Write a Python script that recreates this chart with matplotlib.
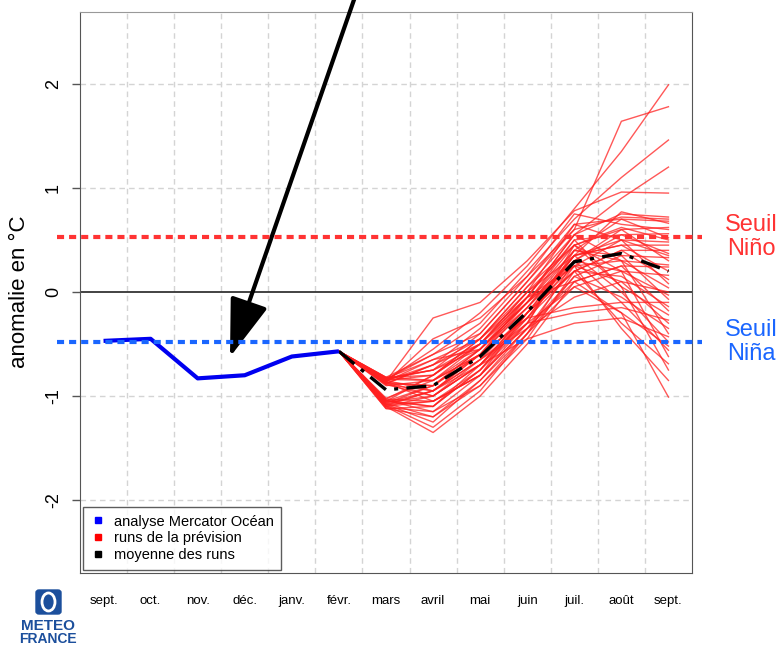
import numpy as np
import matplotlib
matplotlib.use("Agg")
import matplotlib.pyplot as plt
from matplotlib.lines import Line2D
from matplotlib.patches import FancyBboxPatch, Ellipse

plt.rcParams['font.family'] = ['Liberation Sans', 'DejaVu Sans']

# --- data ---
months = ["sept.", "oct.", "nov.", "déc.", "janv.", "févr.", "mars",
          "avril", "mai", "juin", "juil.", "août", "sept."]

# analysis (sept. -> févr.)
analyse = [-0.47, -0.45, -0.83, -0.80, -0.62, -0.57]

# forecast runs: mars, avril, mai, juin, juil., août, sept.
runs = [
    [-0.85, -0.55, -0.20, 0.25, 0.80, 1.35, 1.99],
    [-0.88, -0.70, -0.35, 0.15, 0.60, 1.64, 1.78],
    [-0.82, -0.60, -0.30, 0.20, 0.70, 1.10, 1.46],
    [-1.05, -0.80, -0.45, 0.05, 0.55, 0.90, 1.20],
    [-0.86, -0.25, -0.10, 0.30, 0.78, 0.96, 0.95],
    [-1.08, -0.95, -0.60, -0.05, 0.55, 0.75, 0.72],
    [-0.84, -0.75, -0.40, 0.10, 0.60, 0.72, 0.70],
    [-1.10, -1.00, -0.70, -0.20, 0.35, 0.77, 0.66],
    [-0.90, -0.85, -0.50, 0.00, 0.45, 0.60, 0.62],
    [-1.04, -1.10, -0.75, -0.25, 0.30, 0.55, 0.56],
    [-0.83, -0.65, -0.55, -0.10, 0.40, 0.70, 0.52],
    [-1.12, -1.20, -0.85, -0.35, 0.25, 0.50, 0.48],
    [-0.87, -0.90, -0.60, -0.15, 0.35, 0.45, 0.45],
    [-1.06, -0.95, -0.65, -0.20, 0.20, 0.40, 0.40],
    [-0.85, -0.80, -0.45, -0.05, 0.50, 0.55, 0.37],
    [-1.09, -1.30, -0.95, -0.40, 0.15, 0.35, 0.33],
    [-0.88, -0.70, -0.50, -0.10, 0.30, 0.60, 0.30],
    [-1.03, -1.05, -0.80, -0.30, 0.40, 0.30, 0.26],
    [-0.82, -0.85, -0.55, -0.05, 0.10, 0.25, 0.24],
    [-1.07, -0.90, -0.60, -0.25, 0.35, 0.45, 0.20],
    [-0.86, -1.00, -0.70, -0.30, 0.05, 0.20, 0.16],
    [-1.11, -1.15, -0.90, -0.45, 0.20, 0.40, 0.12],
    [-0.84, -0.60, -0.40, 0.10, 0.65, 0.50, 0.08],
    [-1.05, -1.10, -0.70, -0.20, 0.25, 0.30, 0.04],
    [-0.89, -0.95, -0.65, -0.35, -0.05, 0.10, 0.00],
    [-1.08, -1.25, -0.85, -0.40, 0.30, 0.20, -0.03],
    [-0.83, -0.75, -0.55, -0.15, 0.40, 0.35, -0.07],
    [-1.02, -0.85, -0.60, -0.25, -0.15, -0.10, -0.10],
    [-0.87, -1.05, -0.75, -0.20, 0.20, 0.15, -0.14],
    [-1.10, -1.35, -1.00, -0.50, 0.10, 0.25, -0.18],
    [-0.85, -0.70, -0.45, 0.05, 0.45, 0.05, -0.22],
    [-1.06, -1.00, -0.65, -0.30, -0.20, -0.15, -0.27],
    [-0.88, -0.90, -0.55, -0.10, 0.25, 0.10, -0.30],
    [-1.04, -1.15, -0.80, -0.35, 0.15, -0.05, -0.35],
    [-0.82, -0.80, -0.50, -0.05, 0.55, 0.30, -0.40],
    [-1.09, -0.95, -0.70, -0.45, -0.30, -0.25, -0.43],
    [-0.86, -0.65, -0.45, 0.00, 0.35, 0.00, -0.48],
    [-1.07, -1.20, -0.90, -0.40, 0.05, -0.20, -0.52],
    [-0.84, -0.85, -0.60, -0.15, 0.30, -0.10, -0.56],
    [-1.12, -1.10, -0.75, -0.30, 0.45, 0.20, -0.62],
    [-0.89, -1.00, -0.70, -0.25, 0.20, -0.30, -0.69],
    [-1.05, -0.90, -0.55, -0.10, 0.50, 0.05, -0.75],
    [-0.83, -0.75, -0.50, -0.05, 0.25, -0.35, -0.85],
    [-1.08, -1.05, -0.80, -0.35, 0.10, -0.20, -1.01],
    [-0.87, -0.45, -0.25, 0.15, 0.75, 0.65, 0.60],
    [-1.03, -0.80, -0.50, 0.00, 0.65, 0.70, 0.68],
    [-0.85, -0.95, -0.60, -0.10, 0.45, 0.62, 0.50],
    [-1.10, -1.05, -0.80, -0.20, 0.35, 0.50, 0.35],
]

# mean of runs: mars -> sept.
moyenne = [-0.94, -0.90, -0.62, -0.19, 0.29, 0.37, 0.20]

seuil_nino = 0.53
seuil_nina = -0.48

# --- figure ---
W, H = 782, 647
fig = plt.figure(figsize=(W / 100, H / 100), dpi=100)
ax = fig.add_axes([80 / W, 1 - 573 / H, 612 / W, 561 / H])

x = np.arange(len(months))
x_fc = x[len(analyse) - 1:]          # févr. -> sept.

for r in runs:
    ax.plot(x_fc, [analyse[-1]] + r, color='#ff2020', lw=1.0, alpha=0.75, zorder=3)
ax.plot(x_fc, [analyse[-1]] + moyenne, color='black', lw=2.4,
        linestyle=(0, (6, 2.5, 1.2, 2.5)), zorder=4)
ax.plot(x[:len(analyse)], analyse, color='#0000f0', lw=3.0, zorder=5,
        solid_capstyle='butt')

ax.axhline(0, color='#222222', lw=1.2, zorder=2)

# threshold lines overflow the axes on both sides
ax.plot([-0.98, 12.72], [seuil_nino] * 2, color='#ff3333', lw=3,
        dashes=(1.7, 1.2), clip_on=False, zorder=6)
ax.plot([-0.98, 12.72], [seuil_nina] * 2, color='#1a66ff', lw=3,
        dashes=(1.7, 1.2), clip_on=False, zorder=6)

ax.set_xlim(-0.5, 12.5)
ax.set_ylim(-2.70, 2.69)
ax.set_xticks(x)
ax.set_xticklabels(months, fontsize=9.5)
ax.tick_params(axis='x', length=0, pad=16)
ax.set_yticks([-2, -1, 0, 1, 2])
ax.set_yticklabels(["-2", "-1", "0", "1", "2"], rotation=90, va='center', fontsize=13)
ax.tick_params(axis='y', length=6, width=1, color='#555555', pad=7)

for v in np.arange(-0.5, 13, 1.0)[1:-1]:
    ax.axvline(v, color='#d4d4d4', lw=1, linestyle=(0, (4, 3)), zorder=1)
for v in [-2, -1, 1, 2]:
    ax.axhline(v, color='#d4d4d4', lw=1, linestyle=(0, (4, 3)), zorder=1)

for side in ['left', 'right', 'bottom']:
    ax.spines[side].set_color('#555555')
ax.spines['top'].set_color('#999999')

handles = [Line2D([], [], marker='s', ls='none', color=c, markersize=4.5)
           for c in ['#0000ff', '#ff0000', '#000000']]
leg = ax.legend(handles, ["analyse Mercator Océan", "runs de la prévision", "moyenne des runs"],
                loc='lower left', bbox_to_anchor=(0.005, 0.006), borderaxespad=0,
                fontsize=10.5, frameon=True, fancybox=False, edgecolor='#333333',
                handlelength=1.0, handletextpad=0.6, labelspacing=0.2, borderpad=0.5)
leg.get_frame().set_linewidth(1.0)
leg.set_zorder(10)

fig.text(20 / W, 1 - 292 / H, "anomalie en °C", rotation=90, ha='center', va='center',
         fontsize=16)

fig.text(751 / W, 1 - 237 / H, "Seuil\nNiño", color='#ff3333', ha='center', va='center',
         fontsize=17, linespacing=1.15)
fig.text(751 / W, 1 - 342 / H, "Seuil\nNiña", color='#1a66ff', ha='center', va='center',
         fontsize=17, linespacing=1.15)

# arrow coming from above the figure
ax.annotate('', xy=(230, H - 357), xytext=(356, H + 6),
            xycoords='figure pixels', textcoords='figure pixels',
            arrowprops=dict(arrowstyle='-|>,head_length=3.6,head_width=1.2',
                            mutation_scale=10, lw=3, color='black',
                            shrinkA=0, shrinkB=0))

# Météo-France logo
logo_blue = '#1c4f9c'
fig.patches.append(FancyBboxPatch((36 / W, 1 - 614 / H), 25 / W, 24 / H,
                                  boxstyle='round,pad=0.0,rounding_size=0.004',
                                  transform=fig.transFigure, color=logo_blue))
fig.patches.append(Ellipse((48.5 / W, 1 - 602 / H), 13 / W, 18 / H,
                           transform=fig.transFigure, fill=False, ec='white', lw=2))
fig.text(48 / W, 1 - 626 / H, "METEO", color=logo_blue, ha='center', va='center',
         fontsize=11, fontweight='bold')
fig.text(48 / W, 1 - 639 / H, "FRANCE", color=logo_blue, ha='center', va='center',
         fontsize=10, fontweight='bold')

fig.savefig("out.png", dpi=100, facecolor='white')
